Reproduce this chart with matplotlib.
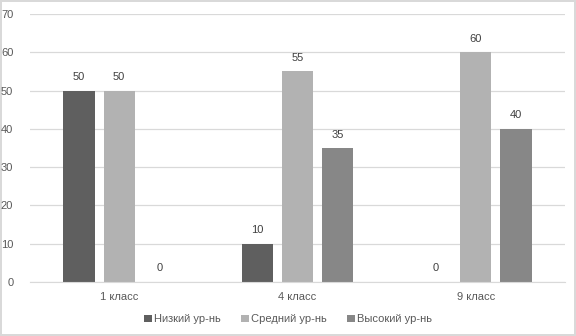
import matplotlib
matplotlib.use("Agg")
import matplotlib.pyplot as plt
import numpy as np

categories = ["1 класс", "4 класс", "9 класс"]
series_names = ["Низкий ур-нь", "Средний ур-нь", "Высокий ур-нь"]
low = [50, 10, 0]
mid = [50, 55, 60]
high = [0, 35, 40]
colors = ["#5f5f5f", "#b2b2b2", "#878787"]

plt.rcParams['font.family'] = ['Liberation Sans', 'DejaVu Sans']
fig = plt.figure(figsize=(5.76, 3.36), dpi=100)
fig.patch.set_edgecolor("#d9d9d9")
fig.patch.set_linewidth(1.5)
ax = fig.add_axes([0.052, 0.161, 0.929, 0.797])

x = np.arange(len(categories))
w = 0.174
step = 0.225
txt = "#595959"
for i, (vals, c, name) in enumerate(zip([low, mid, high], colors, series_names)):
    pos = x + (i - 1) * step
    bars = ax.bar(pos, vals, width=w, color=c, label=name, zorder=2)
    for p, v in zip(pos, vals):
        ax.text(p, v + 2.2, str(v), ha="center", va="bottom", fontsize=8, color="#404040")

ax.set_ylim(0, 70)
ax.set_xlim(-0.5, 2.5)
ax.set_yticks(range(0, 71, 10))
ax.grid(axis="y", color="#d9d9d9", linewidth=0.9, zorder=0)
ax.set_axisbelow(True)
for s in ["top", "right", "left"]:
    ax.spines[s].set_visible(False)
ax.spines["bottom"].set_color("#d9d9d9")
ax.tick_params(axis="both", length=0, labelsize=8, colors=txt)
ax.tick_params(axis="y", pad=12)
ax.tick_params(axis="x", pad=7)
ax.set_xticks(x)
ax.set_xticklabels(categories)

fig.legend(loc="lower center", bbox_to_anchor=(0.5, 0.005), ncol=3, frameon=False,
           fontsize=8, handlelength=0.7, handleheight=0.7, handletextpad=0.2,
           columnspacing=1.8, labelcolor=txt)

fig.savefig("out.png", dpi=100, edgecolor=fig.get_edgecolor())
